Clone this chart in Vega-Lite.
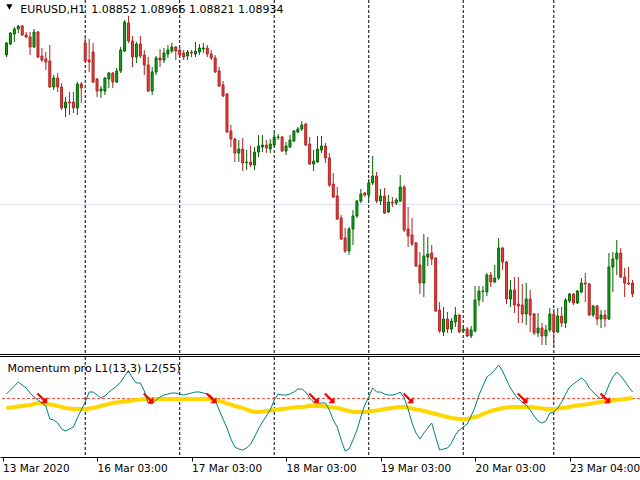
{
"$schema":"https://vega.github.io/schema/vega-lite/v6.json",
"autosize":{"type":"none"},
"width":640,"height":480,"padding":0,
"background":"white",
"config":{"view":{"stroke":null},"font":"DejaVu Sans","axis":{"grid":false}},
"datasets":{
"bars":[
{"i":0,"o":1.1140,"h":1.1166,"l":1.1136,"c":1.1164,"m":100.04,"s":99.90},
{"i":1,"o":1.1162,"h":1.1186,"l":1.1160,"c":1.1184,"m":100.08,"s":99.905},
{"i":2,"o":1.1182,"h":1.1196,"l":1.1166,"c":1.1192,"m":100.12,"s":99.91},
{"i":3,"o":1.1192,"h":1.1200,"l":1.1184,"c":1.1198,"m":100.16,"s":99.915},
{"i":4,"o":1.1198,"h":1.1200,"l":1.1178,"c":1.1180,"m":100.13,"s":99.92},
{"i":5,"o":1.1180,"h":1.1186,"l":1.1174,"c":1.1176,"m":100.10,"s":99.925},
{"i":6,"o":1.1176,"h":1.1186,"l":1.1140,"c":1.1156,"m":100.05,"s":99.93},
{"i":7,"o":1.1156,"h":1.1192,"l":1.1154,"c":1.1186,"m":100.01,"s":99.94},
{"i":8,"o":1.1186,"h":1.1188,"l":1.1134,"c":1.1136,"m":99.98,"s":99.95},
{"i":9,"o":1.1138,"h":1.1154,"l":1.1126,"c":1.1130,"m":99.95,"s":99.95},
{"i":10,"o":1.1132,"h":1.1146,"l":1.1110,"c":1.1126,"m":99.92,"s":99.94},
{"i":11,"o":1.1128,"h":1.1160,"l":1.1074,"c":1.1076,"m":99.79,"s":99.935},
{"i":12,"o":1.1076,"h":1.1100,"l":1.1070,"c":1.1094,"m":99.78,"s":99.93},
{"i":13,"o":1.1094,"h":1.1104,"l":1.1066,"c":1.1076,"m":99.75,"s":99.92},
{"i":14,"o":1.1076,"h":1.1084,"l":1.1030,"c":1.1034,"m":99.69,"s":99.91},
{"i":15,"o":1.1034,"h":1.1056,"l":1.1016,"c":1.1046,"m":99.67,"s":99.90},
{"i":16,"o":1.1046,"h":1.1066,"l":1.1020,"c":1.1044,"m":99.69,"s":99.895},
{"i":17,"o":1.1046,"h":1.1066,"l":1.1024,"c":1.1034,"m":99.71,"s":99.89},
{"i":18,"o":1.1034,"h":1.1086,"l":1.1020,"c":1.1082,"m":99.80,"s":99.89},
{"i":19,"o":1.1082,"h":1.1086,"l":1.1044,"c":1.1074,"m":99.88,"s":99.89},
{"i":20,"o":1.1164,"h":1.1176,"l":1.1126,"c":1.1128,"m":99.96,"s":99.89},
{"i":21,"o":1.1130,"h":1.1172,"l":1.1106,"c":1.1126,"m":100.06,"s":99.895},
{"i":22,"o":1.1146,"h":1.1164,"l":1.1084,"c":1.1086,"m":100.06,"s":99.90},
{"i":23,"o":1.1092,"h":1.1094,"l":1.1056,"c":1.1068,"m":100.03,"s":99.91},
{"i":24,"o":1.1068,"h":1.1078,"l":1.1054,"c":1.1072,"m":100.00,"s":99.92},
{"i":25,"o":1.1068,"h":1.1096,"l":1.1060,"c":1.1094,"m":100.02,"s":99.93},
{"i":26,"o":1.1092,"h":1.1106,"l":1.1074,"c":1.1104,"m":100.06,"s":99.94},
{"i":27,"o":1.1104,"h":1.1106,"l":1.1074,"c":1.1086,"m":100.09,"s":99.95},
{"i":28,"o":1.1086,"h":1.1114,"l":1.1084,"c":1.1108,"m":100.12,"s":99.955},
{"i":29,"o":1.1108,"h":1.1156,"l":1.1104,"c":1.1150,"m":100.16,"s":99.96},
{"i":30,"o":1.1148,"h":1.1210,"l":1.1146,"c":1.1206,"m":100.22,"s":99.965},
{"i":31,"o":1.1204,"h":1.1218,"l":1.1164,"c":1.1168,"m":100.27,"s":99.97},
{"i":32,"o":1.1168,"h":1.1178,"l":1.1116,"c":1.1136,"m":100.20,"s":99.975},
{"i":33,"o":1.1136,"h":1.1166,"l":1.1124,"c":1.1162,"m":100.15,"s":99.98},
{"i":34,"o":1.1162,"h":1.1178,"l":1.1134,"c":1.1138,"m":100.15,"s":99.985},
{"i":35,"o":1.1140,"h":1.1150,"l":1.1100,"c":1.1120,"m":100.07,"s":99.99},
{"i":36,"o":1.1120,"h":1.1136,"l":1.1066,"c":1.1068,"m":99.95,"s":99.99},
{"i":37,"o":1.1068,"h":1.1116,"l":1.1060,"c":1.1106,"m":99.94,"s":99.99},
{"i":38,"o":1.1106,"h":1.1138,"l":1.1100,"c":1.1134,"m":99.98,"s":99.99},
{"i":39,"o":1.1134,"h":1.1152,"l":1.1116,"c":1.1130,"m":100.01,"s":99.99},
{"i":40,"o":1.1130,"h":1.1154,"l":1.1124,"c":1.1144,"m":100.03,"s":99.99},
{"i":41,"o":1.1142,"h":1.1160,"l":1.1134,"c":1.1150,"m":100.04,"s":99.99},
{"i":42,"o":1.1148,"h":1.1164,"l":1.1144,"c":1.1156,"m":100.05,"s":99.99},
{"i":43,"o":1.1156,"h":1.1158,"l":1.1130,"c":1.1148,"m":100.05,"s":99.99},
{"i":44,"o":1.1150,"h":1.1154,"l":1.1134,"c":1.1140,"m":100.04,"s":99.99},
{"i":45,"o":1.1144,"h":1.1150,"l":1.1130,"c":1.1136,"m":100.03,"s":99.99},
{"i":46,"o":1.1138,"h":1.1150,"l":1.1130,"c":1.1146,"m":100.04,"s":99.99},
{"i":47,"o":1.1146,"h":1.1150,"l":1.1136,"c":1.1144,"m":100.05,"s":99.99},
{"i":48,"o":1.1142,"h":1.1166,"l":1.1136,"c":1.1148,"m":100.06,"s":99.99},
{"i":49,"o":1.1146,"h":1.1162,"l":1.1140,"c":1.1154,"m":100.06,"s":99.99},
{"i":50,"o":1.1152,"h":1.1164,"l":1.1144,"c":1.1154,"m":100.05,"s":99.99},
{"i":51,"o":1.1154,"h":1.1160,"l":1.1136,"c":1.1142,"m":100.04,"s":99.99},
{"i":52,"o":1.1142,"h":1.1150,"l":1.1130,"c":1.1134,"m":100.02,"s":99.99},
{"i":53,"o":1.1134,"h":1.1140,"l":1.1104,"c":1.1106,"m":99.98,"s":99.98},
{"i":54,"o":1.1108,"h":1.1116,"l":1.1076,"c":1.1078,"m":99.88,"s":99.97},
{"i":55,"o":1.1080,"h":1.1088,"l":1.1056,"c":1.1058,"m":99.79,"s":99.96},
{"i":56,"o":1.1062,"h":1.1064,"l":1.0984,"c":1.0986,"m":99.70,"s":99.945},
{"i":57,"o":1.0988,"h":1.1000,"l":1.0956,"c":1.0972,"m":99.59,"s":99.935},
{"i":58,"o":1.0972,"h":1.0974,"l":1.0926,"c":1.0944,"m":99.51,"s":99.92},
{"i":59,"o":1.0944,"h":1.0970,"l":1.0926,"c":1.0952,"m":99.49,"s":99.91},
{"i":60,"o":1.0952,"h":1.0974,"l":1.0908,"c":1.0924,"m":99.48,"s":99.90},
{"i":61,"o":1.0925,"h":1.0950,"l":1.0910,"c":1.0926,"m":99.50,"s":99.885},
{"i":62,"o":1.0926,"h":1.0958,"l":1.0916,"c":1.0920,"m":99.54,"s":99.87},
{"i":63,"o":1.0920,"h":1.0956,"l":1.0910,"c":1.0946,"m":99.61,"s":99.86},
{"i":64,"o":1.0946,"h":1.0980,"l":1.0936,"c":1.0958,"m":99.69,"s":99.86},
{"i":65,"o":1.0956,"h":1.0980,"l":1.0946,"c":1.0960,"m":99.76,"s":99.865},
{"i":66,"o":1.0960,"h":1.0970,"l":1.0944,"c":1.0954,"m":99.82,"s":99.87},
{"i":67,"o":1.0952,"h":1.0972,"l":1.0944,"c":1.0962,"m":99.88,"s":99.875},
{"i":68,"o":1.0960,"h":1.0986,"l":1.0956,"c":1.0976,"m":99.98,"s":99.88},
{"i":69,"o":1.0975,"h":1.0982,"l":1.0970,"c":1.0976,"m":100.04,"s":99.885},
{"i":70,"o":1.0976,"h":1.0978,"l":1.0946,"c":1.0948,"m":100.03,"s":99.89},
{"i":71,"o":1.0948,"h":1.0966,"l":1.0940,"c":1.0958,"m":100.03,"s":99.895},
{"i":72,"o":1.0956,"h":1.0980,"l":1.0954,"c":1.0970,"m":100.04,"s":99.90},
{"i":73,"o":1.0968,"h":1.0990,"l":1.0966,"c":1.0988,"m":100.06,"s":99.905},
{"i":74,"o":1.0986,"h":1.0996,"l":1.0984,"c":1.0992,"m":100.09,"s":99.91},
{"i":75,"o":1.0992,"h":1.1008,"l":1.0988,"c":1.1000,"m":100.09,"s":99.91},
{"i":76,"o":1.1002,"h":1.1004,"l":1.0958,"c":1.0960,"m":100.06,"s":99.915},
{"i":77,"o":1.0962,"h":1.0976,"l":1.0920,"c":1.0922,"m":100.00,"s":99.92},
{"i":78,"o":1.0922,"h":1.0950,"l":1.0908,"c":1.0928,"m":99.96,"s":99.92},
{"i":79,"o":1.0926,"h":1.0978,"l":1.0924,"c":1.0952,"m":99.95,"s":99.92},
{"i":80,"o":1.0950,"h":1.0978,"l":1.0944,"c":1.0958,"m":99.95,"s":99.92},
{"i":81,"o":1.0958,"h":1.0964,"l":1.0924,"c":1.0934,"m":99.95,"s":99.915},
{"i":82,"o":1.0934,"h":1.0944,"l":1.0876,"c":1.0880,"m":99.88,"s":99.91},
{"i":83,"o":1.0882,"h":1.0904,"l":1.0854,"c":1.0856,"m":99.78,"s":99.905},
{"i":84,"o":1.0858,"h":1.0876,"l":1.0810,"c":1.0812,"m":99.71,"s":99.90},
{"i":85,"o":1.0814,"h":1.0820,"l":1.0770,"c":1.0772,"m":99.58,"s":99.89},
{"i":86,"o":1.0774,"h":1.0794,"l":1.0744,"c":1.0748,"m":99.47,"s":99.88},
{"i":87,"o":1.0748,"h":1.0796,"l":1.0740,"c":1.0792,"m":99.49,"s":99.87},
{"i":88,"o":1.0792,"h":1.0830,"l":1.0760,"c":1.0818,"m":99.58,"s":99.86},
{"i":89,"o":1.0818,"h":1.0850,"l":1.0814,"c":1.0848,"m":99.68,"s":99.86},
{"i":90,"o":1.0848,"h":1.0872,"l":1.0844,"c":1.0862,"m":99.81,"s":99.86},
{"i":91,"o":1.0864,"h":1.0866,"l":1.0856,"c":1.0860,"m":99.93,"s":99.86},
{"i":92,"o":1.0860,"h":1.0892,"l":1.0850,"c":1.0884,"m":100.01,"s":99.865},
{"i":93,"o":1.0884,"h":1.0938,"l":1.0880,"c":1.0898,"m":100.10,"s":99.87},
{"i":94,"o":1.0898,"h":1.0906,"l":1.0844,"c":1.0848,"m":100.06,"s":99.875},
{"i":95,"o":1.0848,"h":1.0872,"l":1.0840,"c":1.0858,"m":100.06,"s":99.88},
{"i":96,"o":1.0858,"h":1.0874,"l":1.0822,"c":1.0824,"m":100.04,"s":99.89},
{"i":97,"o":1.0826,"h":1.0860,"l":1.0824,"c":1.0846,"m":100.03,"s":99.895},
{"i":98,"o":1.0846,"h":1.0856,"l":1.0836,"c":1.0844,"m":100.03,"s":99.90},
{"i":99,"o":1.0844,"h":1.0854,"l":1.0840,"c":1.0850,"m":100.04,"s":99.905},
{"i":100,"o":1.0848,"h":1.0900,"l":1.0846,"c":1.0876,"m":100.06,"s":99.91},
{"i":101,"o":1.0876,"h":1.0880,"l":1.0786,"c":1.0790,"m":100.00,"s":99.91},
{"i":102,"o":1.0792,"h":1.0836,"l":1.0756,"c":1.0778,"m":99.89,"s":99.905},
{"i":103,"o":1.0780,"h":1.0814,"l":1.0758,"c":1.0762,"m":99.75,"s":99.895},
{"i":104,"o":1.0764,"h":1.0766,"l":1.0716,"c":1.0718,"m":99.65,"s":99.885},
{"i":105,"o":1.0720,"h":1.0746,"l":1.0662,"c":1.0684,"m":99.59,"s":99.88},
{"i":106,"o":1.0684,"h":1.0782,"l":1.0656,"c":1.0738,"m":99.65,"s":99.87},
{"i":107,"o":1.0736,"h":1.0776,"l":1.0718,"c":1.0742,"m":99.70,"s":99.86},
{"i":108,"o":1.0744,"h":1.0760,"l":1.0720,"c":1.0732,"m":99.75,"s":99.85},
{"i":109,"o":1.0734,"h":1.0736,"l":1.0626,"c":1.0628,"m":99.61,"s":99.84},
{"i":110,"o":1.0630,"h":1.0646,"l":1.0584,"c":1.0588,"m":99.48,"s":99.83},
{"i":111,"o":1.0586,"h":1.0636,"l":1.0578,"c":1.0612,"m":99.49,"s":99.82},
{"i":112,"o":1.0612,"h":1.0626,"l":1.0584,"c":1.0592,"m":99.50,"s":99.81},
{"i":113,"o":1.0592,"h":1.0614,"l":1.0584,"c":1.0608,"m":99.55,"s":99.80},
{"i":114,"o":1.0606,"h":1.0636,"l":1.0596,"c":1.0620,"m":99.63,"s":99.795},
{"i":115,"o":1.0620,"h":1.0622,"l":1.0584,"c":1.0586,"m":99.68,"s":99.79},
{"i":116,"o":1.0588,"h":1.0598,"l":1.0584,"c":1.0592,"m":99.71,"s":99.79},
{"i":117,"o":1.0592,"h":1.0596,"l":1.0576,"c":1.0578,"m":99.74,"s":99.79},
{"i":118,"o":1.0578,"h":1.0598,"l":1.0574,"c":1.0590,"m":99.82,"s":99.80},
{"i":119,"o":1.0588,"h":1.0678,"l":1.0586,"c":1.0650,"m":99.91,"s":99.81},
{"i":120,"o":1.0650,"h":1.0678,"l":1.0638,"c":1.0668,"m":100.03,"s":99.82},
{"i":121,"o":1.0667,"h":1.0678,"l":1.0646,"c":1.0668,"m":100.12,"s":99.84},
{"i":122,"o":1.0666,"h":1.0704,"l":1.0658,"c":1.0700,"m":100.21,"s":99.855},
{"i":123,"o":1.0700,"h":1.0706,"l":1.0676,"c":1.0686,"m":100.24,"s":99.87},
{"i":124,"o":1.0686,"h":1.0720,"l":1.0684,"c":1.0694,"m":100.28,"s":99.88},
{"i":125,"o":1.0694,"h":1.0774,"l":1.0690,"c":1.0754,"m":100.33,"s":99.89},
{"i":126,"o":1.0754,"h":1.0756,"l":1.0710,"c":1.0726,"m":100.27,"s":99.90},
{"i":127,"o":1.0726,"h":1.0728,"l":1.0642,"c":1.0652,"m":100.18,"s":99.905},
{"i":128,"o":1.0652,"h":1.0690,"l":1.0636,"c":1.0670,"m":100.10,"s":99.91},
{"i":129,"o":1.0670,"h":1.0696,"l":1.0624,"c":1.0640,"m":100.04,"s":99.91},
{"i":130,"o":1.0642,"h":1.0696,"l":1.0604,"c":1.0638,"m":99.99,"s":99.91},
{"i":131,"o":1.0640,"h":1.0682,"l":1.0604,"c":1.0622,"m":99.96,"s":99.91},
{"i":132,"o":1.0622,"h":1.0684,"l":1.0600,"c":1.0652,"m":99.93,"s":99.91},
{"i":133,"o":1.0652,"h":1.0670,"l":1.0586,"c":1.0620,"m":99.88,"s":99.91},
{"i":134,"o":1.0622,"h":1.0624,"l":1.0580,"c":1.0584,"m":99.82,"s":99.905},
{"i":135,"o":1.0584,"h":1.0624,"l":1.0576,"c":1.0594,"m":99.77,"s":99.90},
{"i":136,"o":1.0594,"h":1.0604,"l":1.0560,"c":1.0578,"m":99.75,"s":99.895},
{"i":137,"o":1.0578,"h":1.0600,"l":1.0560,"c":1.0590,"m":99.77,"s":99.89},
{"i":138,"o":1.0590,"h":1.0634,"l":1.0586,"c":1.0622,"m":99.85,"s":99.89},
{"i":139,"o":1.0622,"h":1.0632,"l":1.0554,"c":1.0586,"m":99.86,"s":99.89},
{"i":140,"o":1.0586,"h":1.0634,"l":1.0584,"c":1.0618,"m":99.90,"s":99.895},
{"i":141,"o":1.0618,"h":1.0636,"l":1.0596,"c":1.0604,"m":99.96,"s":99.90},
{"i":142,"o":1.0604,"h":1.0654,"l":1.0594,"c":1.0650,"m":100.04,"s":99.905},
{"i":143,"o":1.0648,"h":1.0664,"l":1.0644,"c":1.0662,"m":100.11,"s":99.91},
{"i":144,"o":1.0662,"h":1.0664,"l":1.0640,"c":1.0644,"m":100.14,"s":99.92},
{"i":145,"o":1.0644,"h":1.0670,"l":1.0642,"c":1.0668,"m":100.17,"s":99.925},
{"i":146,"o":1.0666,"h":1.0694,"l":1.0664,"c":1.0684,"m":100.20,"s":99.93},
{"i":147,"o":1.0684,"h":1.0704,"l":1.0646,"c":1.0682,"m":100.17,"s":99.935},
{"i":148,"o":1.0682,"h":1.0684,"l":1.0618,"c":1.0620,"m":100.10,"s":99.94},
{"i":149,"o":1.0620,"h":1.0640,"l":1.0616,"c":1.0638,"m":100.06,"s":99.95},
{"i":150,"o":1.0638,"h":1.0640,"l":1.0600,"c":1.0612,"m":100.02,"s":99.955},
{"i":151,"o":1.0612,"h":1.0630,"l":1.0594,"c":1.0620,"m":99.99,"s":99.96},
{"i":152,"o":1.0620,"h":1.0630,"l":1.0596,"c":1.0612,"m":100.03,"s":99.965},
{"i":153,"o":1.0612,"h":1.0744,"l":1.0610,"c":1.0716,"m":100.13,"s":99.97},
{"i":154,"o":1.0716,"h":1.0746,"l":1.0666,"c":1.0732,"m":100.21,"s":99.975},
{"i":155,"o":1.0732,"h":1.0770,"l":1.0700,"c":1.0744,"m":100.26,"s":99.98},
{"i":156,"o":1.0744,"h":1.0754,"l":1.0694,"c":1.0696,"m":100.22,"s":99.985},
{"i":157,"o":1.0696,"h":1.0714,"l":1.0656,"c":1.0684,"m":100.17,"s":99.99},
{"i":158,"o":1.0684,"h":1.0716,"l":1.0680,"c":1.0682,"m":100.11,"s":99.995},
{"i":159,"o":1.0684,"h":1.0690,"l":1.0656,"c":1.0662,"m":100.06,"s":100.00}
],
"seps":[{"i":20},{"i":44},{"i":68},{"i":92},{"i":116},{"i":139}],
"sigs":[{"i":9},{"i":36},{"i":52},{"i":78},{"i":82},{"i":102},{"i":131},{"i":152}]
},
"resolve":{"scale":{"y":"independent"},"axis":{"y":"independent"}},
"layer":[
{"layer":[
  {"data":{"values":[{}]},"mark":{"type":"rule","color":"#e0e0f8","strokeWidth":1},
   "encoding":{"y":{"datum":1.0841,"type":"quantitative","scale":{"domain":[1.0542,1.125],"range":[354,0],"nice":false,"zero":false},"axis":null}}},
  {"data":{"values":[{}]},"mark":{"type":"rule","color":"black","strokeWidth":1},
   "encoding":{"y":{"datum":1.0541,"type":"quantitative","axis":null}}},
  {"data":{"name":"seps"},"mark":{"type":"rule","color":"black","strokeDash":[3,2],"strokeWidth":1},
   "encoding":{"x":{"field":"i","type":"quantitative","scale":{"domain":[-0.375,159.625],"nice":false,"zero":false}},
     "y":{"datum":1.125,"type":"quantitative","axis":null},"y2":{"datum":1.0544}}},
  {"data":{"name":"bars"},"mark":{"type":"rule","strokeWidth":1},
   "encoding":{"x":{"field":"i","type":"quantitative"},"y":{"field":"l","type":"quantitative","axis":null},"y2":{"field":"h"},
     "color":{"condition":{"test":"datum.c < datum.o","value":"#b22222"},"value":"#006400"}}},
  {"data":{"name":"bars"},"mark":{"type":"bar","width":2,"strokeWidth":1},
   "encoding":{"x":{"field":"i","type":"quantitative"},"y":{"field":"o","type":"quantitative","axis":null},"y2":{"field":"c"},
     "fill":{"condition":{"test":"datum.c < datum.o","value":"#e8403c"},"value":"#22a022"},
     "stroke":{"condition":{"test":"datum.c < datum.o","value":"#b22222"},"value":"#006400"}}},
  {"data":{"values":[{}]},"mark":{"type":"point","shape":"triangle-down","filled":true,"color":"black","size":40,"opacity":1},
   "encoding":{"x":{"datum":0.75,"type":"quantitative"},"y":{"datum":1.1236,"type":"quantitative","axis":null}}},
  {"data":{"values":[{}]},"mark":{"type":"text","text":"EURUSD,H1","align":"left","baseline":"alphabetic","fontSize":11,"color":"#000000"},
   "encoding":{"x":{"datum":3.5,"type":"quantitative"},"y":{"datum":1.1224,"type":"quantitative","axis":null}}},
  {"data":{"values":[{}]},"mark":{"type":"text","text":"1.08852 1.08966 1.08821 1.08934","align":"left","baseline":"alphabetic","fontSize":11,"color":"#000000"},
   "encoding":{"x":{"datum":21.5,"type":"quantitative"},"y":{"datum":1.1224,"type":"quantitative","axis":null}}}
]},
{"layer":[
  {"data":{"values":[{}]},"mark":{"type":"rule","color":"black","strokeWidth":1},
   "encoding":{"y":{"datum":100.415,"type":"quantitative","scale":{"domain":[99.41,100.42],"range":[457,356],"nice":false,"zero":false},"axis":null}}},
  {"data":{"name":"seps"},"mark":{"type":"rule","color":"black","strokeDash":[3,2],"strokeWidth":1},
   "encoding":{"x":{"field":"i","type":"quantitative","scale":{"domain":[-0.375,159.625],"nice":false,"zero":false},
     "axis":{"values":[-1,23,47,71,95,119,143],"offset":-23,
       "labelExpr":"datum.value < 0 ? '13 Mar 2020' : datum.value == 23 ? '16 Mar 03:00' : datum.value == 47 ? '17 Mar 03:00' : datum.value == 71 ? '18 Mar 03:00' : datum.value == 95 ? '19 Mar 03:00' : datum.value == 119 ? '20 Mar 03:00' : '23 Mar 04:00'",
       "labelAlign":"left","labelBaseline":"top","labelFontSize":10.5,"labelFont":"DejaVu Sans","labelColor":"black",
       "tickColor":"black","tickSize":4,"domainColor":"black","labelPadding":2,"labelOverlap":false,"labelFlush":false,"labelBound":false,"title":null,"grid":false}},
     "y":{"datum":100.41,"type":"quantitative","axis":null},"y2":{"datum":99.41}}},
  {"data":{"values":[{}]},"mark":{"type":"rule","color":"#ff5040","strokeDash":[3,2],"strokeWidth":1},
   "encoding":{"y":{"datum":99.995,"type":"quantitative","axis":null}}},
  {"data":{"name":"bars"},"mark":{"type":"line","color":"#ffd700","strokeWidth":4},
   "encoding":{"x":{"field":"i","type":"quantitative"},"y":{"field":"s","type":"quantitative","axis":null}}},
  {"data":{"name":"bars"},"mark":{"type":"line","color":"#008080","strokeWidth":1},
   "encoding":{"x":{"field":"i","type":"quantitative"},"y":{"field":"m","type":"quantitative","axis":null}}},
  {"data":{"name":"sigs"},"mark":{"type":"point","shape":"M-1,-0.7L-0.7,-1L0.55,0.25L1,-0.2L1,1L-0.2,1L0.25,0.55Z","filled":true,"color":"#ff0000","size":110,"opacity":1,"strokeWidth":0},
   "encoding":{"x":{"field":"i","type":"quantitative"},"y":{"datum":100,"type":"quantitative","axis":null}}},
  {"data":{"values":[{}]},"mark":{"type":"text","text":"Momentum pro L1(13,3) L2(55)","align":"left","baseline":"alphabetic","fontSize":11,"color":"#000000"},
   "encoding":{"x":{"datum":0.25,"type":"quantitative"},"y":{"datum":100.263,"type":"quantitative","axis":null}}}
]}
]
}
